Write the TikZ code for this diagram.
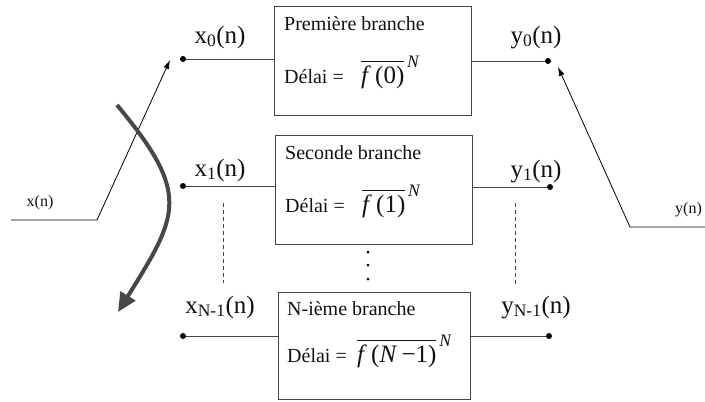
\documentclass[tikz,border=0pt]{standalone}
\usepackage{amsmath}
\usepackage{fontspec}
\setmainfont{Liberation Serif}
\usetikzlibrary{arrows.meta,positioning}
\definecolor{BranchInk}{HTML}{111111}
\definecolor{BranchRule}{HTML}{444444}
\definecolor{SweepGray}{HTML}{474747}
\newcommand{\delayof}[1]{$\overline{\text{\textit{f}\,(#1)}}^{\,\text{\textit{N}}}$}

\begin{document}
\begin{tikzpicture}[
  x=1pt,y=-1pt,
  every node/.style={text=BranchInk},
  branchbox/.style={draw=BranchRule,line width=.9pt,minimum width=197pt,
    minimum height=109pt,inner sep=0pt},
  boxtext/.style={font=\fontsize{20}{23}\selectfont,anchor=base west,inner sep=0pt},
  delay/.style={font=\fontsize{25}{28}\selectfont,anchor=base west,inner sep=0pt},
  signal/.style={font=\fontsize{25}{28}\selectfont,anchor=base,inner sep=0pt},
  port/.style={font=\fontsize{16}{19}\selectfont,anchor=base,inner sep=0pt},
  tap/.style={circle,fill=black,inner sep=0pt,minimum size=6pt},
  ellipsisdot/.style={circle,fill=black,inner sep=0pt,minimum size=3pt},
  wire/.style={draw=BranchRule,line width=.9pt},
  gap/.style={draw=BranchRule,line width=.8pt,dash pattern=on 4pt off 3pt},
  feed/.style={-{Latex[length=9pt,width=6pt]},line width=.8pt},
  sweep/.style={-{Triangle[length=19pt,width=17pt]},draw=SweepGray,
    fill=none,line width=4pt}
]
\useasboundingbox (0,0) rectangle (705,402);
% the three delay branches
\node[branchbox] (first) at (372.5,60.5) {};
\node[branchbox] (second) at (373.5,189.5) {};
\node[branchbox,minimum width=192pt,minimum height=107pt] (last) at (374,345.5) {};
\node[boxtext] (firstname) at (284,30) {Première branche};
\node[boxtext] (firstdelai) at (284,83) {Délai =};
\node[delay] (firstf) at (361,83) {\delayof{0}};
\node[boxtext] (secondname) at (285,159) {Seconde branche};
\node[boxtext] (seconddelai) at (285,212) {Délai =};
\node[delay] (secondf) at (362,212) {\delayof{1}};
\node[boxtext] (lastname) at (287,315) {N-ième branche};
\node[boxtext] (lastdelai) at (287,362) {Délai =};
\node[delay] (lastf) at (357,362) {\delayof{\textit{N}\,−1}};
\foreach \y [count=\i] in {252,265,279}
  \node[ellipsisdot] (vdot\i) at (368,\y) {};
% taps on both sides
\node[tap] (x0) at (183,59) {};
\node[tap] (x1) at (183,186) {};
\node[tap] (xN) at (183,336) {};
\node[tap] (y0) at (548,61) {};
\node[tap] (y1) at (550,187) {};
\node[tap] (yN) at (549,336) {};
\draw[wire] (x0) -- (x0 -| first.west);
\draw[wire] (x1) -- (x1 -| second.west);
\draw[wire] (xN) -- (xN -| last.west);
\draw[wire] (first.east |- y0) -- (y0);
\draw[wire] (second.east |- y1) -- (y1);
\draw[wire] (last.east |- yN) -- (yN);
\node[signal] (x0lab) at (220,43) {x\textsubscript{0}(n)};
\node[signal] (x1lab) at (220,176) {x\textsubscript{1}(n)};
\node[signal] (xNlab) at (220,313) {x\textsubscript{N-1}(n)};
\node[signal] (y0lab) at (536,43) {y\textsubscript{0}(n)};
\node[signal] (y1lab) at (536,177) {y\textsubscript{1}(n)};
\node[signal] (yNlab) at (536,313) {y\textsubscript{N-1}(n)};
\draw[gap] (223,203) -- (223,283);
\draw[gap] (515,203) -- (515,285);
% commutators: input and output switches
\coordinate (xin) at (11,220);
\coordinate (xbend) at (97,220);
\coordinate (x0tip) at (170,60);
\draw[feed] (xin) -- (xbend) -- (x0tip);
\node[port] (xinlab) at (40,206) {x(n)};
\coordinate (yout) at (705,227);
\coordinate (ybend) at (630,227);
\coordinate (y0tip) at (558,67);
\draw[feed] (yout) -- (ybend) -- (y0tip);
\node[port,anchor=base west] (youtlab) at (675,213) {y(n)};
% rotation sense
\coordinate (sweepfrom) at (117,105);
\coordinate (sweepto) at (118,312);
\draw[sweep] (sweepfrom) .. controls (191,194) and (179,214) .. (sweepto);
\end{tikzpicture}
\end{document}
